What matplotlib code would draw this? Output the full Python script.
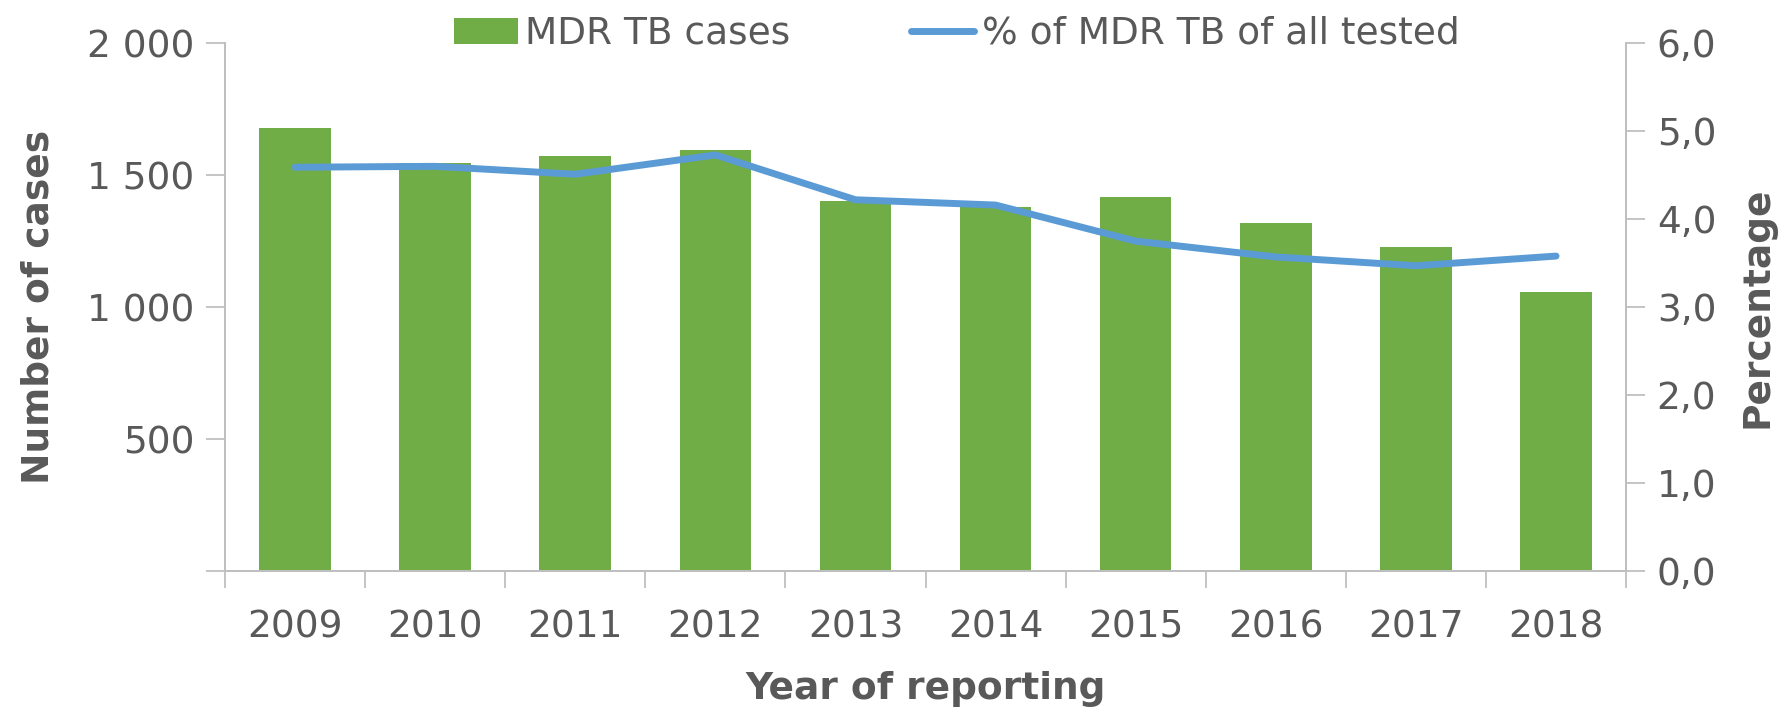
import matplotlib.pyplot as plt
import numpy as np

# data
years = ['2009', '2010', '2011', '2012', '2013', '2014', '2015', '2016', '2017', '2018']
mdr_cases = [1677, 1547, 1573, 1595, 1401, 1379, 1418, 1319, 1228, 1056]
mdr_pct = [4.59, 4.60, 4.51, 4.73, 4.22, 4.16, 3.75, 3.57, 3.47, 3.58]

green = '#70AD47'
blue = '#5B9BD5'
grey_txt = '#595959'
grey_ax = '#BFBFBF'

plt.rcParams['font.family'] = ['DejaVu Sans']

fig = plt.figure(figsize=(17.85, 7.08), dpi=100)
ax = fig.add_axes([0.126, 0.1935, 0.785, 0.7455])
ax2 = ax.twinx()

x = np.arange(len(years))
ax.bar(x, mdr_cases, width=0.51, color=green, label='MDR TB cases')
ax2.plot(x, mdr_pct, color=blue, lw=5, solid_capstyle='round', label='% of MDR TB of all tested')

# left axis
ax.set_xlim(-0.5, len(years) - 0.5)
ax.set_ylim(0, 2000)
ax.set_yticks([0, 500, 1000, 1500, 2000])
ax.set_yticklabels(['', '500', '1 000', '1 500', '2 000'])
ax.set_ylabel('Number of cases', fontsize=27, fontweight='bold', color=grey_txt, labelpad=22)

# right axis
ax2.set_ylim(0, 6)
ax2.set_yticks(np.arange(0, 7, 1))
ax2.set_yticklabels(['%d,0' % v for v in range(7)])
ax2.set_ylabel('Percentage', fontsize=27, fontweight='bold', color=grey_txt, labelpad=17)

# x axis: labels centred, ticks between categories
ax.set_xticks(x)
ax.set_xticklabels(years)
ax.set_xticks(np.arange(-0.5, len(years)), minor=True)
ax.tick_params(axis='x', which='major', length=0, pad=28, labelsize=27, labelcolor=grey_txt)
ax.tick_params(axis='x', which='minor', length=12, width=1.3, color=grey_ax)
ax.set_xlabel('Year of reporting', fontsize=27, fontweight='bold', color=grey_txt, labelpad=18)

ax.tick_params(axis='y', length=14, width=1.3, color=grey_ax, labelsize=27, labelcolor=grey_txt, pad=8)
ax2.tick_params(axis='y', length=14, width=1.3, color=grey_ax, labelsize=27, labelcolor=grey_txt, pad=8)

for a in (ax, ax2):
    a.spines['top'].set_visible(False)
    for s in ('left', 'right', 'bottom'):
        a.spines[s].set_color(grey_ax)
        a.spines[s].set_linewidth(1.3)

h1, l1 = ax.get_legend_handles_labels()
h2, l2 = ax2.get_legend_handles_labels()
fig.legend(h1 + h2, l1 + l2, loc='center', bbox_to_anchor=(0.536, 0.952), ncol=2,
           frameon=False, fontsize=27, labelcolor=grey_txt, handlelength=1.7,
           handletextpad=0.2, columnspacing=3.2)

fig.savefig('out.png', dpi=100)
